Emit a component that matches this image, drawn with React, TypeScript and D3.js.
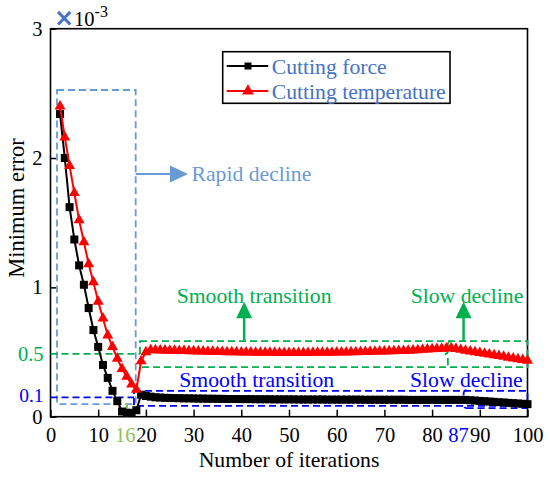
import React, { useEffect, useRef } from 'react';
import * as d3 from 'd3';

// iteration 2..100
const forceStart = 2;
const forceValues = [
  2.34, 2.0, 1.62, 1.37, 1.17, 1.02, 0.84, 0.67, 0.54, 0.4, 0.3, 0.2, 0.12, 0.04, 0.03, 0.03, 0.05,
  0.17, 0.16, 0.155, 0.15, 0.148, 0.146, 0.145, 0.144, 0.143, 0.142, 0.142, 0.141, 0.14, 0.14, 0.139,
  0.139, 0.138, 0.138, 0.137, 0.137, 0.137, 0.136, 0.136, 0.136, 0.135, 0.135, 0.135, 0.135, 0.134,
  0.134, 0.134, 0.134, 0.134, 0.133, 0.133, 0.133, 0.133, 0.133, 0.133, 0.132, 0.132, 0.132, 0.132,
  0.132, 0.132, 0.132, 0.132, 0.131, 0.131, 0.131, 0.131, 0.131, 0.131, 0.131, 0.131, 0.131, 0.13,
  0.13, 0.13, 0.13, 0.13, 0.13, 0.13, 0.13, 0.13, 0.13, 0.13, 0.13, 0.13,
  0.127, 0.125, 0.122, 0.12, 0.117, 0.115, 0.112, 0.11, 0.107, 0.105, 0.102, 0.1, 0.097,
];

const tempStart = 2;
const tempValues = [
  2.4, 2.16, 1.94, 1.73, 1.52, 1.35, 1.18, 1.04, 0.89, 0.76, 0.63, 0.54, 0.45, 0.37, 0.31, 0.25, 0.21,
  0.43, 0.5, 0.515, 0.515, 0.514, 0.513, 0.512, 0.511, 0.51, 0.509, 0.508, 0.507, 0.506, 0.505, 0.504,
  0.503, 0.502, 0.501, 0.5, 0.5, 0.499, 0.498, 0.497, 0.497, 0.496, 0.496, 0.495, 0.495, 0.495, 0.494,
  0.494, 0.494, 0.494, 0.494, 0.494, 0.494, 0.495, 0.495, 0.495, 0.496, 0.496, 0.497,
  0.497, 0.498, 0.499, 0.5, 0.501, 0.502, 0.503, 0.504, 0.505, 0.506, 0.507, 0.508, 0.509, 0.51, 0.512,
  0.514, 0.516, 0.518, 0.52, 0.522, 0.524, 0.526, 0.528, 0.53,
  0.524, 0.518, 0.512, 0.506, 0.5, 0.494, 0.488, 0.482, 0.476, 0.47, 0.464, 0.458, 0.452, 0.446, 0.44, 0.434,
];

const xTicks = [0, 10, 20, 30, 40, 50, 60, 70, 80, 90, 100];
const yTicks = [0, 1, 2, 3];
const seriesNames = ['Cutting force', 'Cutting temperature'];

const FONT = 'Liberation Serif, Times New Roman, DejaVu Serif, serif';
const LIGHT_BLUE = '#6A9AD4';
const LEGEND_BLUE = '#4472C4';
const GREEN = '#00B050';
const BLUE = '#0000FF';
const LIGHT_GREEN = '#8DC15A';
const TXT = 21.7;
const TICK = 20.5;

const App: React.FC = () => {
  const svgRef = useRef<SVGSVGElement>(null);

  useEffect(() => {
    if (!svgRef.current) return;
    const svg = d3.select(svgRef.current).html('');

    const x = d3.scaleLinear().domain([0, 100]).range([50.5, 527.5]);
    const y = d3.scaleLinear().domain([0, 3]).range([416.7, 28.7]);

    const force = forceValues.map((v, i) => [forceStart + i, v] as [number, number]);
    const temp = tempValues.map((v, i) => [tempStart + i, v] as [number, number]);

    const line = d3.line<[number, number]>().x(d => x(d[0])).y(d => y(d[1]));

    // frame
    svg.append('rect')
      .attr('x', x(0)).attr('y', y(3))
      .attr('width', x(100) - x(0)).attr('height', y(0) - y(3))
      .attr('fill', 'none').attr('stroke', '#000').attr('stroke-width', 1.6);

    // axes
    const xAxis = svg.append('g')
      .attr('transform', `translate(0,${y(0)})`)
      .call(d3.axisBottom(x).tickValues(xTicks).tickSize(-7).tickPadding(11).tickSizeOuter(0));
    xAxis.attr('font-family', FONT).attr('font-size', TICK);
    xAxis.select('.domain').remove();
    xAxis.selectAll('line').attr('stroke-width', 1.5);
    xAxis.selectAll('text').attr('fill', '#000');

    const yAxis = svg.append('g')
      .attr('transform', `translate(${x(0)},0)`)
      .call(d3.axisLeft(y).tickValues(yTicks).tickFormat(d3.format('d')).tickSize(-6).tickPadding(8).tickSizeOuter(0));
    yAxis.attr('font-family', FONT).attr('font-size', TICK);
    yAxis.select('.domain').remove();
    yAxis.selectAll('line').attr('stroke-width', 1.5);
    yAxis.selectAll('text').attr('fill', '#000');

    // special tick labels
    const special = svg.append('g').attr('font-family', FONT).attr('font-size', TICK);
    special.append('text').attr('x', x(16) - 1.5).attr('y', 441.5).attr('text-anchor', 'middle')
      .attr('fill', LIGHT_GREEN).text('16');
    special.append('text').attr('x', x(87) - 7).attr('y', 441.5).attr('text-anchor', 'middle')
      .attr('fill', BLUE).text('87');
    special.append('text').attr('x', 43.5).attr('y', y(0.485)).attr('dy', '0.35em').attr('text-anchor', 'end')
      .attr('fill', GREEN).text('0.5');
    special.append('text').attr('x', 43.5).attr('y', y(0.165)).attr('dy', '0.35em').attr('text-anchor', 'end')
      .attr('font-size', 19.5).attr('fill', BLUE).text('0.1');

    // exponent label
    const exp = svg.append('text').attr('x', 54).attr('y', 26).attr('font-family', FONT);
    exp.append('tspan').attr('fill', LEGEND_BLUE).attr('font-weight', 'bold').attr('font-size', 24)
      .attr('font-family', 'DejaVu Sans, sans-serif').text('×');
    exp.append('tspan').attr('fill', '#000').attr('font-size', TICK).text('10');
    exp.append('tspan').attr('fill', '#000').attr('font-size', 16).attr('dy', -9).text('-3');

    // axis titles
    svg.append('text').attr('x', x(50)).attr('y', 467).attr('text-anchor', 'middle')
      .attr('font-family', FONT).attr('font-size', TXT).text('Number of iterations');
    svg.append('text').attr('transform', 'translate(23.5,208) rotate(-90)').attr('text-anchor', 'middle')
      .attr('font-family', FONT).attr('font-size', 22.5).text('Minimum error');

    // annotation boxes
    const dashed = (sel: any, color: string) =>
      sel.attr('fill', 'none').attr('stroke', color).attr('stroke-width', 1.8).attr('stroke-dasharray', '7,4');

    dashed(svg.append('rect')
      .attr('x', x(1.36)).attr('y', y(2.526))
      .attr('width', x(17.86) - x(1.36)).attr('height', y(0.098) - y(2.526)), LIGHT_BLUE);

    // rapid decline arrow
    const ay = 174;
    svg.append('line').attr('x1', x(17.86)).attr('x2', 172).attr('y1', ay).attr('y2', ay)
      .attr('stroke', LIGHT_BLUE).attr('stroke-width', 2);
    svg.append('path').attr('d', `M170,${ay - 8.5}L188,${ay}L170,${ay + 8.5}Z`).attr('fill', LIGHT_BLUE);
    svg.append('text').attr('x', 191.5).attr('y', 180.7).attr('fill', LIGHT_BLUE)
      .attr('font-family', FONT).attr('font-size', TXT).text('Rapid decline');

    // green reference and box
    dashed(svg.append('line').attr('x1', x(0)).attr('x2', x(18.76)).attr('y1', y(0.485)).attr('y2', y(0.485)), GREEN);
    dashed(svg.append('rect')
      .attr('x', x(18.76)).attr('y', y(0.585))
      .attr('width', x(100) - x(18.76)).attr('height', y(0.384) - y(0.585)), GREEN);

    const brace = (bx: number, top: number, bot: number) => {
      const mid = (top + bot) / 2;
      return `M${bx + 3},${top}Q${bx},${top} ${bx},${top + 4}L${bx},${mid - 3}Q${bx},${mid} ${bx - 3},${mid}` +
        `Q${bx},${mid} ${bx},${mid + 3}L${bx},${bot - 4}Q${bx},${bot} ${bx + 3},${bot}`;
    };
    dashed(svg.append('path').attr('d', brace(x(83.3), y(0.585), y(0.384))), GREEN);

    // blue reference and boxes
    dashed(svg.append('line').attr('x1', x(0)).attr('x2', x(17.5)).attr('y1', y(0.15)).attr('y2', y(0.15)), BLUE);
    dashed(svg.append('rect')
      .attr('x', x(17.5)).attr('y', y(0.199))
      .attr('width', x(100) - x(17.5)).attr('height', y(0.083) - y(0.199)), BLUE);
    dashed(svg.append('path')
      .attr('d', `${brace(x(86.6), y(0.206), y(0.067))}M${x(86.6) + 3},${y(0.067)}L${x(100)},${y(0.067)}`), BLUE);

    // iteration 16 marker
    svg.append('line').attr('x1', x(16)).attr('x2', x(16)).attr('y1', y(0.1)).attr('y2', y(0))
      .attr('stroke', LIGHT_GREEN).attr('stroke-width', 2.5);

    // series
    svg.append('path').datum(force).attr('d', line).attr('fill', 'none').attr('stroke', '#000').attr('stroke-width', 2);
    svg.append('g').selectAll('path').data(force).join('path')
      .attr('transform', d => `translate(${x(d[0])},${y(d[1])})`)
      .attr('d', d3.symbol(d3.symbolSquare, 64)())
      .attr('fill', '#000');

    svg.append('path').datum(temp).attr('d', line).attr('fill', 'none').attr('stroke', '#FF0000').attr('stroke-width', 2);
    svg.append('g').selectAll('path').data(temp).join('path')
      .attr('transform', d => `translate(${x(d[0])},${y(d[1])})`)
      .attr('d', d3.symbol(d3.symbolTriangle, 52)())
      .attr('fill', '#FF0000');

    // green arrows and labels
    [40.6, 86.6].forEach(v => {
      const ax = x(v);
      svg.append('line').attr('x1', ax).attr('x2', ax).attr('y1', y(0.585)).attr('y2', 316)
        .attr('stroke', GREEN).attr('stroke-width', 2.5);
      svg.append('path').attr('d', `M${ax - 8},318.3L${ax},301.7L${ax + 8},318.3Z`).attr('fill', GREEN);
    });
    const lbl = svg.append('g').attr('font-family', FONT).attr('font-size', TXT);
    lbl.append('text').attr('x', 176.7).attr('y', 302.7).attr('fill', GREEN).text('Smooth transition');
    lbl.append('text').attr('x', 410.7).attr('y', 302.7).attr('fill', GREEN).text('Slow decline');
    lbl.append('text').attr('x', 179.3).attr('y', 387.3).attr('fill', BLUE).text('Smooth transition');
    lbl.append('text').attr('x', 410).attr('y', 387.3).attr('fill', BLUE).text('Slow decline');

    // legend
    const lg = svg.append('g');
    lg.append('rect').attr('x', 222.7).attr('y', 51.7).attr('width', 227.3).attr('height', 51.6)
      .attr('fill', '#fff').attr('stroke', '#000').attr('stroke-width', 1.6);
    const rows = [
      { name: seriesNames[0], color: '#000', sym: d3.symbolSquare, size: 49, y: 66 },
      { name: seriesNames[1], color: '#FF0000', sym: d3.symbolTriangle, size: 60, y: 91 },
    ];
    rows.forEach(r => {
      lg.append('line').attr('x1', 226.7).attr('x2', 268.3).attr('y1', r.y).attr('y2', r.y)
        .attr('stroke', r.color).attr('stroke-width', 2);
      lg.append('path').attr('transform', `translate(248,${r.y})`)
        .attr('d', d3.symbol(r.sym, r.size)()).attr('fill', r.color);
      lg.append('text').attr('x', 271.7).attr('y', r.y + 7.5).attr('fill', LEGEND_BLUE)
        .attr('font-family', FONT).attr('font-size', TXT).text(r.name);
    });
  }, []);

  return <svg ref={svgRef} width={550} height={477} style={{ position: 'absolute', left: 0, top: 0, background: '#fff' }} />;
};

export default App;
